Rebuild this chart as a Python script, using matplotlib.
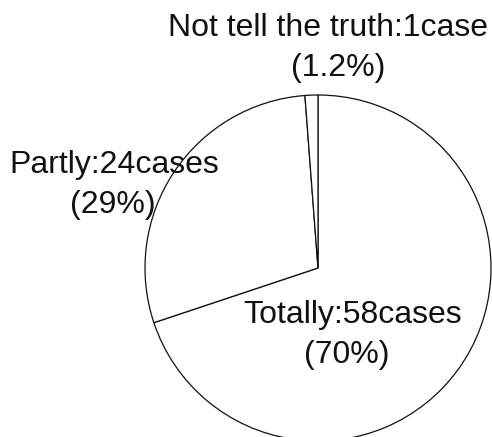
import matplotlib
matplotlib.use("Agg")
import matplotlib.pyplot as plt

categories = ["Totally", "Partly", "Not tell the truth"]
cases = [58, 24, 1]
case_words = ["cases", "cases", "case"]
percent_labels = ["(70%)", "(29%)", "(1.2%)"]

plt.rcParams['font.family'] = ['Liberation Sans', 'DejaVu Sans']

W, H = 492, 437
fig = plt.figure(figsize=(W / 100, H / 100), dpi=100)
ax = fig.add_axes([0, 0, 1, 1])

cx, cy, r = 318, 268, 173
ax.pie(cases, startangle=90, counterclock=False, radius=1,
       colors=["white"] * 3,
       wedgeprops=dict(edgecolor="#111111", linewidth=0.9))
ax.set_aspect("auto")
ax.set_xlim(-cx / r, (W - cx) / r)
ax.set_ylim((cy - H) / r, cy / r)
ax.axis("off")

# label positions in pixel coordinates (line1 center, line2 center)
label_pos = [((353, 315), (347, 355)),
             ((114, 165), (113, 205)),
             ((328, 28), (338, 68))]
for cat, n, w, pct, (p1, p2) in zip(categories, cases, case_words, percent_labels, label_pos):
    for txt, (px, py) in ((f"{cat}:{n}{w}", p1), (pct, p2)):
        ax.text((px - cx) / r, (cy - py) / r, txt, ha="center", va="center",
                fontsize=23, color="#111111")

fig.savefig("out.png", dpi=100, facecolor="white")
